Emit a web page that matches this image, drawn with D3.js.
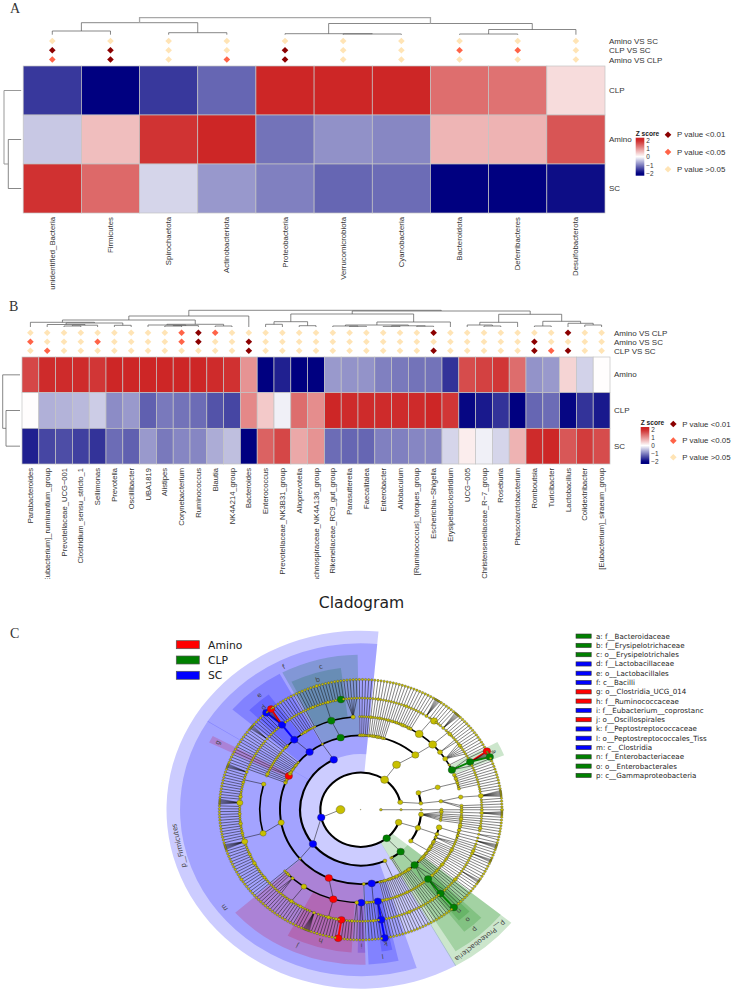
<!DOCTYPE html>
<html><head><meta charset="utf-8">
<script src="https://cdn.jsdelivr.net/npm/d3@7"></script>
<style>html,body{margin:0;background:#fff}svg{display:block}</style></head>
<body><svg id="c" width="734" height="991"></svg>
<script>
// ---------- Panel A data ----------
const phylaA=["unidentified_Bacteria","Firmicutes","Spirochaetota","Actinobacteriota","Proteobacteria","Verrucomicrobiota","Cyanobacteria","Bacteroidota","Deferribacteres","Desulfobacterota"];
const rowsA=["CLP","Amino","SC"];
const clpA=[-1.56,-2,-1.56,-1.2,2,2,2,1.34,1.3,0.32];
const aminoA=[-0.43,0.6,1.88,2,-1.1,-0.86,-0.94,0.68,0.7,1.57];
const scA=[1.9,1.38,-0.33,-0.81,-1,-1.2,-1.15,-2,-2,-1.9];
const compsA=["Amino VS SC","CLP VS SC","Amino VS CLP"];
const sigA1=[0,0,0,0,0,0,0,0,0,0];
const sigA2=[2,2,0,0,2,0,0,1,1,0];
const sigA3=[1,2,0,1,2,0,0,0,0,0];
const dendA=[17,[12,[3.7,0,1],[2,2,3]],[11.2,[1,4,[.7,5,6]],[5.2,[.7,7,8],9]]];
// ---------- Panel B data ----------
const generaB=["Parabacteroides","[Eubacterium]_ruminantium_group","Prevotellaceae_UCG−001","Clostridium_sensu_stricto_1","Sellimonas","Prevotella","Oscillibacter","UBA1819","Alistipes","Corynebacterium","Ruminococcus","Blautia","NK4A214_group","Bacteroides","Enterococcus","Prevotellaceae_NK3B31_group","Alloprevotella","Lachnospiraceae_NK4A136_group","Rikenellaceae_RC9_gut_group","Parasutterella","Faecalitalea","Enterobacter","Allobaculum","[Ruminococcus]_torques_group","Escherichia−Shigella","Erysipelatoclostridium","UCG−005","Christensenellaceae_R−7_group","Roseburia","Phascolarctobacterium","Romboutsia","Turicibacter","Lactobacillus","Colidextribacter","[Eubacterium]_siraeum_group"];
const rowsB=["Amino","CLP","SC"];
const aminoB=[1.7,1.95,1.95,1.95,1.85,2,2,2,2,2,2,1.95,1.9,1,-2,-1.75,-2,-2,-.8,-.85,-.85,-1,-1.05,-1.1,-1.1,-1.6,1.65,1.75,1.85,1.35,-.85,-.8,.4,-.35,.02];
const clpB=[.02,-.62,-.6,-.55,-.4,-.9,-.8,-1.25,-1.05,-1.1,-1.15,-1.35,-1.45,1.1,.5,-.12,1.35,1.05,2,1.95,1.95,1.95,1.95,1.95,2,1.85,-1.95,-1.8,-1.6,-2,-1.2,-1.15,-1.95,-1.6,-1.8];
const scB=[-1.75,-1.45,-1.4,-1.5,-1.6,-1.15,-1.25,-.8,-1.05,-.95,-.95,-.65,-.5,-2,1.45,1.7,.8,1,-1.15,-1.2,-1.2,-1,-1,-.95,-.95,-.33,.17,-.12,-.33,.7,1.95,2,1.55,1.8,1.65];
const compsB=["Amino VS CLP","Amino VS SC","CLP VS SC"];
const sigB1=[0,0,0,0,0,0,0,0,0,1,2,1,0,0,0,0,0,0,0,0,0,0,0,0,2,0,0,0,0,0,0,0,2,0,0];
const sigB2=[1,0,0,0,1,0,0,0,0,1,2,0,0,2,0,0,0,0,0,0,0,0,0,0,0,0,0,0,0,0,2,0,0,0,0];
const sigB3=[0,1,0,0,0,0,0,0,0,0,0,0,0,2,0,0,0,0,0,0,0,0,0,0,2,0,0,0,0,0,2,1,2,0,0];
const dendB=[16.7,
 [11,[7,[4.7,0,[4,[2.5,1,[1.8,[1,2,3],4]],[1.7,5,6]]],[2.7,[2,7,[1.4,[1,8,9],10]],[1,11,12]]],13],
 [16,[13,[5.3,[2.7,14,15],[1.3,16,17]],[5,[2,[1,18,[.7,19,20]],[1.2,[.6,21,22],[.8,23,24]]],25]],
     [12.7,[4.7,[2,26,[1,27,28]],29],[5.7,[1,30,31],[3.7,32,[2,33,34]]]]]];
// ---------- shared legend data ----------
const zTicks=[2,1,0,-1,-2];
const pLabels=["P value <0.01","P value <0.05","P value >0.05"];
// ---------- Panel C data (clade trees in compact text: abundance, group, :tag, / single child, (..) children, {..} tight children, *n tight leaves, #n leaves) ----------
const groupNames=["Amino","CLP","SC"];
const cladeLegendLabels=["a: f__Bacteroidaceae","b: f__Erysipelotrichaceae","c: o__Erysipelotrichales","d: f__Lactobacillaceae","e: o__Lactobacillales","f: c__Bacilli","g: o__Clostridia_UCG_014","h: f__Ruminococcaceae","i: f__Eubacterium__coprostanc","j: o__Oscillospirales","k: f__Peptostreptococcaceae","l: o__Peptostreptococcales_Tiss","m: c__Clostridia","n: f__Enterobacteriaceae","o: o__Enterobacterales","p: c__Gammaproteobacteria"];
const cladeLegendGroups=["CLP","CLP","CLP","SC","SC","SC","Amino","Amino","SC","Amino","SC","SC","SC","CLP","CLP","CLP"];
const archaea="1.2/1/1/1.5/1.5/1.5/1.5";
const phylumD=["3(2/1.5/2*8,1/1/1/1,1/1.5/1/1,1/2/1/1,1/1/1/1,1/1/1/1)",
 "3.5(3.5(2/2/1,1.5/1/1,2/1#2,1/1/1,1.5/1*8,1/1/1),2/1/1/1,1.5(1/1/1,1/2/1,1/1.5*6),1/1/1/1,2/2/1/1,1/1/1/1,1/1/1/1)",
 "2.5(2/1/1/1,1.5/1/1/1,2/1.5/1/1,1/1/1*6,1/1/1/1,1.5/2/1/1,1/1/1/1,1.5/1/2/1)"];
const cladeN="5.5C:n(1/1,1/1,5.5C/5.5C,1/1)";
const cladeO=`5.5C:o(1.5/1/1,${cladeN},1/1/1)`;
const cladeP=`5.5C:p(1.5/1/1/1,1.5/1.5/1/1,1/1/1/1,1/1/1/1,${cladeO},1.5/1/1/1,2/1/1.5/1,1/1/1/1,1.5/1/1/1,1/1/1/1)`;
const proteo=`5.5C:Proteobacteria(${cladeP},1/1/1/1/1,1/1/1/1/1)`;
const classC3="2(1.5/1/1/1,1/1.5/1/1,2/1/1/1,1/1/1/1,1.5/1/2/1,1/1/1/1,1.5/1.5/1/1,1/1/1/1,1/1/1/1)";
const cladeK="5.5S:k(1/1,5.5S/5.5S,1/1)";
const cladeL=`5.5S:l(1.5/1/1,${cladeK},1/1/1,1/1.5/1,1/1/1,1.5/1/1)`;
const cladeI="5.5S:i(1/1,1/1)";
const cladeH="5.5A:h(1.5/1,1/1,1/1,1/1,5.5A/5.5A,1/1,1.5/1,1/1,1/1,2/1,1/1,1/1,1/1,1/1,1.5*12,1/1,1/1,1/1)";
const cladeJ=`5.5A:j(${cladeI},2(1/1,1/1),${cladeH},3.5(1/1,1.5/1,1/1,1/1,1/1,2/1,1/1,1/1,1/1,1/1),1.5(1/1,1/1,1/1),1/1/1,1.5/1/1,1/1/1)`;
const bigFamily="4(1/1,1/1,1.5/1,1/1,1/1,1/1,1/1.5,1/1,1/1,2/1,1/1,1/1,1/1,1.5/1,1/1,1/1,1/1,1/1,4*10,1/1,1/1,1.5/1,1/1,1/1,1/1,2/1,1/1,1/1,1/1,1.5/1,1/1,1/1,1/1,4*10,1/1,2/1,1/1,1/1,1/1)";
const bigOrder=`4(${bigFamily},2.5(1/1,1/1,1.5/1,1/1,1/1,1/1,1.5*8))`;
const cladeG="5.5A:g(1/1/1,1/1/1)";
const clostridia=`5.5S:m(1.5/1/1/1,1/1/1/1,1/1.5/1/1,1/1/1/1,${cladeL},1.5/1/1/1,${cladeJ},1/1/1/1,${bigOrder},2/1/1/1,1/2/1/1,1.5/1/1/1,1/1/1/1,${cladeG},2/1/1/1,1.5/1/1/1,1/1/1/1)`;
const cladeD="5.5S:d(1/1,1/1,1/1,5.5S{5.5S,.6,.6,.6,.6,.6,.6,.6,.6,.6,5.5A,.6},1/1,1/1)";
const cladeE=`5.5S:e(1/1/1,1.5/1/1,1/1/1,${cladeD},1/1/1,1/1/1,1.5/1/1,1/1/1,1/1/1,1/1/1)`;
const cladeB="5.5C:b(1/1,1/1,1.5/1,1/1,1/1,1/1,1/1.5,1/1,1.5/1,1/1,1/1,1/1,1/1,5.5C/1,1/1)";
const cladeC=`5.5C:c(1/1/1,${cladeB},2.5(1/1,1/1,1/1,1/1,1/1))`;
const bacilli=`5.5S:f(1.5/1/1/1,1/1/1/1,1/1/1/1,1.5/1/1/1,1/1/1/1,1/1/1*8,${cladeE},1/1/1/1,${cladeC},1.5/1/1/1,1.5/1/1/1,1.5/1/1/1,1/1/1/1,1/1/1/1)`;
const firmicutes=`5.5S:Firmicutes(${classC3},${clostridia},${bacilli})`;
const chainOrders="1.5/1.5/1/1,1/1/1/1,1.5/1/1.5/1,1.5/1/1/1,1/1.5/1/1,2/1/1/1,1.5/1/1/1,1/1/1/1,1.5/1.5/1/1,1/1/1/1";
const chainFamilies="1.5/1/1,1/1/1,1.5/1/1,1/1.5/1,1.5/1/1,2/1/1,1.5/1/1,1/1/1,2/1/1,1.5/1/1";
const family36="6(1/1,1.5*10,1/1,1/1,5/1,1/1,1/1)";
const family46="6(1/1,1.5*10,1/1,1/1,2/1,1/1,1/1)";
const cladeA="5.5C:a(1/1,5.5C{5.5A,.6,.6,.6,.6,.6,.6,.6,.6,.6,.6,5.5C},1/1)";
const phylumA=`6(6(${chainOrders},5(${chainFamilies},${family36},${family46},3(1/1,1/1),3(1/1,2/1,1/1,1/1,1/1,1/1),1/1/1,${cladeA})))`;
const phylumB="3(3(3(2/1/1,1/1/1,2/1/1,1/1/1,1.5/1/1,1/1/1,1/1/1,1.5/1/1)),2(2(2.5(1/1,1/1,1/1,3*12,1/1,1/1),1.5/1/1,1/1/1)))";

// ---------- drawing ----------
const svg=d3.select("#c");
const sans="'Liberation Sans',Arial,sans-serif";
const heat=d3.scaleLinear([-2,0,2],["#000080","#ffffff","#CD2626"]).clamp(true);
const sigColor=d3.scaleOrdinal([0,1,2],["#FFE4B5","#FF6347","#8B0000"]);
const defs=svg.append("defs");
const grad=defs.append("linearGradient").attr("id","zg").attr("x1",0).attr("x2",0).attr("y1",0).attr("y2",1);
d3.range(0,21).forEach(i=>{const v=2.3-4.6*i/20;grad.append("stop").attr("offset",i/20).attr("stop-color",heat(v));});
const diamond=d3.symbol(d3.symbolSquare,22);

function heatPanel(o){
 const g=svg.append("g");
 const x=d3.scaleBand(o.cols,[o.x0,o.x1]);
 const y=d3.scaleBand(o.rows,[o.y0,o.y1]);
 o.rows.forEach((r,ri)=>{
  g.selectAll(null).data(o.values[ri]).join("rect")
   .attr("x",(d,i)=>x(o.cols[i])).attr("y",y(r)).attr("width",x.bandwidth()).attr("height",y.bandwidth())
   .attr("fill",d=>heat(d)).attr("stroke","#c4c4c4").attr("stroke-width",.7);
 });
 // column labels
 const clip="cl"+o.id;
 defs.append("clipPath").attr("id",clip).append("rect").attr("x",0).attr("y",o.y1).attr("width",734).attr("height",o.clipH);
 const ax=g.append("g").attr("clip-path",`url(#${clip})`).append("g").attr("transform",`translate(0,${o.y1})`)
  .call(d3.axisBottom(x).tickSize(0));
 ax.select(".domain").remove();
 ax.selectAll("text").attr("transform","rotate(-90)").attr("text-anchor","end").attr("x",-o.labelGap).attr("y",0).attr("dy",".33em")
  .attr("font-family",sans).attr("font-size",o.colFont).attr("fill","#333");
 // row labels
 const ay=g.append("g").attr("transform",`translate(${o.x1+o.rowGap},0)`).call(d3.axisRight(y).tickSize(0).tickPadding(0));
 ay.select(".domain").remove();
 ay.selectAll("text").attr("font-family",sans).attr("font-size",8).attr("fill","#333");
 // significance diamonds
 const yc=d3.scalePoint(o.comps,[o.compY0,o.compY1]);
 o.comps.forEach((c,ci)=>{
  g.selectAll(null).data(o.sig[ci]).join("path").attr("d",diamond)
   .attr("transform",(d,i)=>`translate(${x(o.cols[i])+x.bandwidth()/2},${yc(c)}) rotate(45)`)
   .attr("fill",d=>sigColor(d));
 });
 const ac=g.append("g").attr("transform",`translate(${o.x1+o.rowGap},0)`).call(d3.axisRight(yc).tickSize(0).tickPadding(0));
 ac.select(".domain").remove();
 ac.selectAll("text").attr("font-family",sans).attr("font-size",8).attr("fill","#333");
 // column dendrogram
 const hy=d3.scaleLinear([0,o.dend[0]],[o.dendBottom,o.dendTop]);
 const dg=g.append("g").attr("fill","none");
 function walk(n){
  if(typeof n==="number") return {x:x(o.cols[n])+x.bandwidth()/2,h:0};
  const a=walk(n[1]),b=walk(n[2]),top=n[0]===o.dend[0];
  dg.append("path").attr("d",`M${a.x},${hy(a.h)}V${hy(n[0])}H${b.x}V${hy(b.h)}`)
   .attr("stroke",top&&o.lightTop?"#a8a8a8":"#555").attr("stroke-width",top&&o.lightTop?1.3:.7);
  return {x:(a.x+b.x)/2,h:n[0]};
 }
 walk(o.dend);
 // row dendrogram
 const cy=r=>y(r)+y.bandwidth()/2, rd=o.rowDend;
 const c0=cy(o.rows[rd.single]),c1=cy(o.rows[rd.pair[0]]),c2=cy(o.rows[rd.pair[1]]),m=(c1+c2)/2;
 dg.append("path").attr("d",`M${o.x0-2},${c1}H${rd.x1}V${c2}H${o.x0-2}`).attr("stroke","#555").attr("stroke-width",.7);
 dg.append("path").attr("d",`M${o.x0-2},${c0}H${rd.x0}V${m}H${rd.x1}`).attr("stroke",o.lightTop?"#999":"#555").attr("stroke-width",o.lightTop?1:.7);
 // legends
 const L=o.legend;
 g.append("text").attr("x",L.x).attr("y",L.titleY).text("Z score").attr("font-family",sans).attr("font-size",6.6).attr("font-weight","bold").attr("fill","#222");
 g.append("rect").attr("x",L.x).attr("y",L.barY0).attr("width",8.6).attr("height",L.barY1-L.barY0).attr("fill","url(#zg)");
 const zs=d3.scaleLinear([-2.3,2.3],[L.barY1,L.barY0]);
 const az=g.append("g").attr("transform",`translate(${L.x+10.5},0)`).call(d3.axisRight(zs).tickValues(zTicks).tickSize(0).tickPadding(0).tickFormat(d3.format("d")));
 az.select(".domain").remove();
 az.selectAll("text").attr("font-family",sans).attr("font-size",6.4).attr("fill","#333");
 const py=d3.scalePoint(pLabels,[L.pY0,L.pY1]);
 g.selectAll(null).data(pLabels).join("path").attr("d",diamond)
  .attr("transform",d=>`translate(${L.pX},${py(d)}) rotate(45)`).attr("fill",(d,i)=>sigColor(2-i));
 g.selectAll(null).data(pLabels).join("text").attr("x",L.pX+9).attr("y",d=>py(d)).attr("dy",".33em").text(d=>d)
  .attr("font-family",sans).attr("font-size",7.9).attr("fill","#333");
}
heatPanel({id:"A",cols:phylaA,rows:rowsA,values:[clpA,aminoA,scA],comps:compsA,sig:[sigA1,sigA2,sigA3],dend:dendA,
 x0:23.2,x1:605,y0:66,y1:213,labelGap:4,clipH:77,colFont:7.8,rowGap:4,compY0:41,compY1:59.5,dendBottom:34.7,dendTop:17.7,lightTop:true,
 rowDend:{single:0,pair:[1,2],x0:4,x1:8.3},legend:{x:635.7,titleY:135.5,barY0:137.7,barY1:175.7,pX:668,pY0:134.7,pY1:169.3}});
heatPanel({id:"B",cols:generaB,rows:rowsB,values:[aminoB,clpB,scB],comps:compsB,sig:[sigB1,sigB2,sigB3],dend:dendB,
 x0:22,x1:610,y0:357,y1:464,labelGap:4,clipH:115,colFont:7.6,rowGap:4,compY0:332.7,compY1:350.7,dendBottom:327,dendTop:310.3,lightTop:false,
 rowDend:{single:0,pair:[1,2],x0:2.7,x1:6},legend:{x:640.7,titleY:425,barY0:427,barY1:464,pX:673.3,pY0:424,pY1:457.3}});

// panel letters
[["A",10,12.5],["B",9,311],["C",10,638]].forEach(([t,x,y])=>svg.append("text").attr("x",x).attr("y",y).text(t)
 .attr("font-family","'Liberation Serif',serif").attr("font-size",14).attr("fill","#333"));

// ---------- cladogram ----------
function parseClade(s){
 let i=0;
 const num=()=>{const m=/^[\d.]+/.exec(s.slice(i));i+=m[0].length;return +m[0];};
 function node(w){
  const n={a:num(),w:w};
  if("SCA".includes(s[i])&&s[i]){n.g={S:"SC",C:"CLP",A:"Amino"}[s[i]];i++;}
  if(s[i]===":"){const m=/^:[A-Za-z]+/.exec(s.slice(i));n.tag=m[0].slice(1);i+=m[0].length;}
  const c=s[i];
  if(c==="/"){i++;n.children=[node(w)];}
  else if(c==="("||c==="{"){i++;const cw=c==="{"?.2:w;n.children=[];
   while(true){n.children.push(node(cw));if(s[i]===","){i++;continue;}i++;break;}}
  else if(c==="*"){i++;const k=num();n.children=d3.range(k).map(()=>({a:.6,w:.2}));}
  else if(c==="#"){i++;const k=num();n.children=d3.range(k).map(()=>({a:1,w:w}));}
  return n;
 }
 return node(1);
}
const treeData={a:.15,w:1,children:[parseClade(archaea),
 {a:7,w:1,children:[`4.5(${phylumD.join(",")})`,proteo,firmicutes,phylumA,phylumB].map(parseClade)}]};
const root=d3.hierarchy(treeData);
let cum=0;
root.eachAfter(n=>{
 if(!n.children){n.s0=cum;cum+=n.data.w;n.s1=cum;}
 else{n.s0=n.children[0].s0;n.s1=n.children[n.children.length-1].s1;}
 n.mid=(n.s0+n.s1)/2;
});
const theta=d3.scaleLinear([0,cum],[89.4,449.4]);
const radius=d3.scaleLinear([0,7],[0,130.2]);
const sizeR=d3.scalePow([0,1],[0,1.15]).exponent(.65);
const wedgeR=d3.scaleOrdinal([2,3,4,5],[179,166.5,155,143]);
const groupColor=d3.scaleOrdinal(groupNames,["#ff0000","#008000","#0000ff"]);
const rad=d=>d*Math.PI/180;
const pos=(t,r)=>[r*Math.sin(rad(t)),-r*Math.cos(rad(t))];
const gc=svg.append("g").attr("transform","translate(360.7,809.7) scale(1.085,1)");
const nodes=root.descendants();
// highlighted wedges: phyla underneath, then deepest clades first
const tagged=nodes.filter(n=>n.data.tag).sort((a,b)=>(a.depth===2?-1:b.depth===2?1:b.depth-a.depth));
const arcGen=d3.arc();
gc.selectAll("path.w").data(tagged).join("path").attr("class","w")
 .attr("d",n=>arcGen({innerRadius:radius(n.depth),outerRadius:wedgeR(n.depth),startAngle:rad(theta(n.s0)-.12),endAngle:rad(theta(n.s1)+.12)}))
 .attr("fill",n=>groupColor(n.data.g)).attr("fill-opacity",.2);
// branches
const arcWidth={2:2,3:2,4:1.8,5:1.5,6:.45,7:.3};
nodes.filter(n=>n.children&&n.depth>0).forEach(n=>{
 const tp=theta(n.mid),rp=radius(n.depth),rc=radius(n.depth+1);
 const ts=n.children.map(c=>theta(c.mid));
 const span=ts[ts.length-1]-ts[0];
 const segs=[];
 if(span>=7){
  const p=d3.path();
  p.arc(0,0,rc,rad(ts[0]-90),rad(ts[ts.length-1]-90));
  gc.append("path").attr("d",p.toString()).attr("fill","none").attr("stroke","#000").attr("stroke-width",arcWidth[n.depth+1]);
  const near=n.children[d3.leastIndex(ts,t=>Math.abs(t-tp))];
  segs.push(near);
 } else segs.push(...n.children);
 segs.forEach(c=>{
  const [a,b]=pos(tp,rp),[e,f]=pos(theta(c.mid),rc);
  const col=n.data.g&&c.data.g&&c.depth>=6;
  gc.append("line").attr("x1",a).attr("y1",b).attr("x2",e).attr("y2",f)
   .attr("stroke",col?groupColor(c.data.g):"#111").attr("stroke-width",col?1.8:(c.data.w<1?.28:.5));
 });
});
// nodes
gc.selectAll("circle").data(nodes).join("circle")
 .attr("cx",n=>pos(theta(n.mid),radius(n.depth))[0]).attr("cy",n=>pos(theta(n.mid),radius(n.depth))[1])
 .attr("r",n=>sizeR(n.data.a))
 .attr("fill",n=>n.data.g?groupColor(n.data.g):"#C8C000").attr("stroke","#333").attr("stroke-width",.3);
// wedge labels
gc.selectAll("text").data(tagged).join("text")
 .attr("transform",n=>{const t=theta(n.mid),[a,b]=pos(t,wedgeR(n.depth)-(n.depth===2?7.5:7));return `translate(${a},${b}) rotate(${t})`;})
 .attr("text-anchor","middle").attr("dy",".35em").attr("font-family","'DejaVu Sans',sans-serif")
 .attr("font-size",n=>n.depth===2?6.6:6.4).attr("fill","#444")
 .text(n=>n.data.tag.length>1?"p__"+n.data.tag:n.data.tag);
// title
svg.append("text").attr("x",361.5).attr("y",608).attr("text-anchor","middle").text("Cladogram")
 .attr("font-family","'DejaVu Sans',sans-serif").attr("font-size",15.6).attr("fill","#222");
// group legend
const gy=d3.scalePoint(groupNames,[644.7,675.3]);
svg.selectAll(null).data(groupNames).join("rect").attr("x",176.3).attr("y",d=>gy(d)-4).attr("width",23).attr("height",8)
 .attr("fill",d=>groupColor(d)).attr("stroke","#555").attr("stroke-width",.7);
svg.selectAll(null).data(groupNames).join("text").attr("x",208).attr("y",d=>gy(d)).attr("dy",".36em").text(d=>d)
 .attr("font-family","'DejaVu Sans',sans-serif").attr("font-size",10.8).attr("fill","#222");
// clade legend
const ly=d3.scalePoint(cladeLegendLabels,[636,775.3]);
svg.selectAll(null).data(cladeLegendLabels).join("rect").attr("x",576).attr("y",d=>ly(d)-2).attr("width",15.2).attr("height",4.2)
 .attr("fill",(d,i)=>groupColor(cladeLegendGroups[i])).attr("stroke","#333").attr("stroke-width",.6);
svg.selectAll(null).data(cladeLegendLabels).join("text").attr("x",596).attr("y",d=>ly(d)).attr("dy",".36em").text(d=>d)
 .attr("font-family","'DejaVu Sans',sans-serif").attr("font-size",7.1).attr("fill","#222");
</script></body></html>
